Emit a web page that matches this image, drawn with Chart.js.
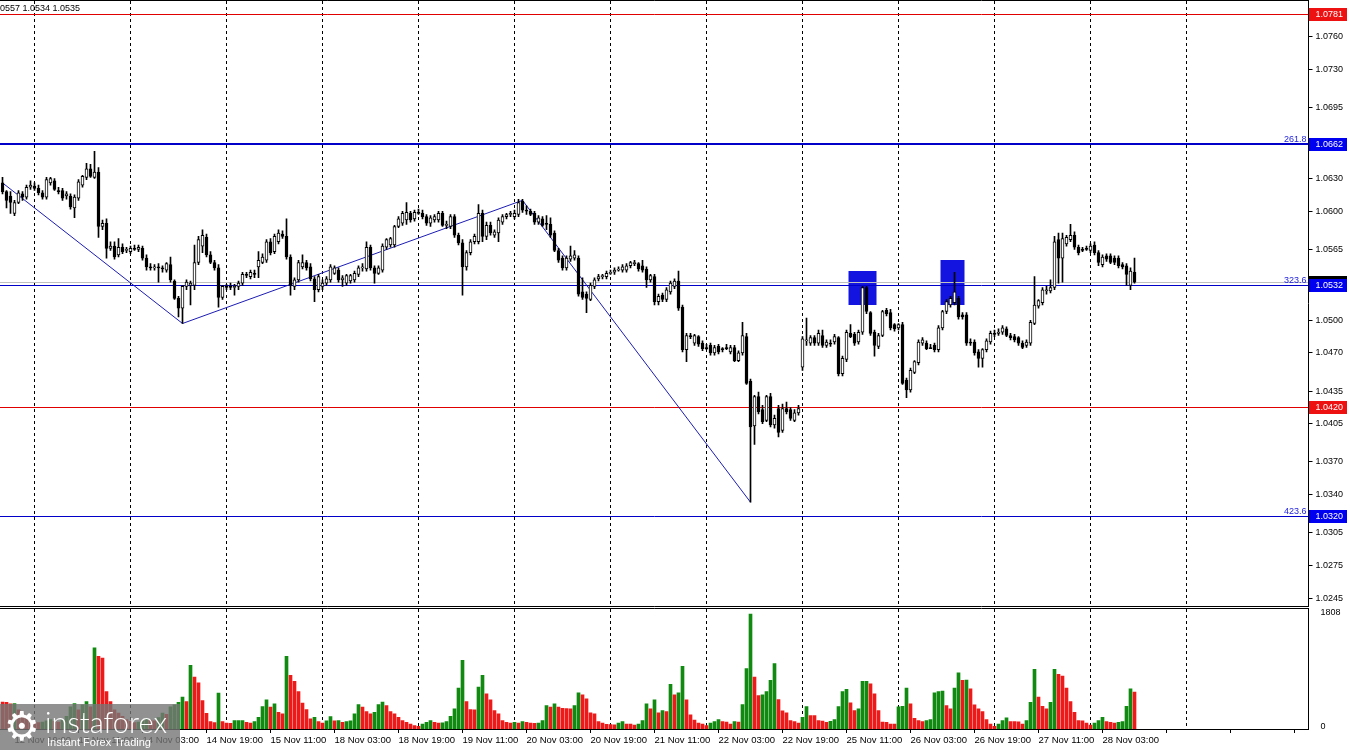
<!DOCTYPE html>
<html>
<head>
<meta charset="utf-8">
<title>EURUSD H1</title>
<script src="https://cdn.jsdelivr.net/npm/chart.js"></script>
<style>
  body {
    margin: 0;
    background: #fff;
    font-family: "Liberation Sans", Arial, sans-serif;
  }
  .page {
    position: relative;
    width: 1350px;
    height: 750px;
    overflow: hidden;
  }
  #priceChart { position: absolute; left: 0; top: 0; }
  #volumeChart { position: absolute; left: 0; top: 608px; }
  .quote {
    position: absolute;
    left: 0;
    top: 3px;
    font-size: 9px;
    line-height: 10px;
    color: #000;
    white-space: nowrap;
  }
  .logo {
    position: absolute;
    left: 0;
    top: 704px;
    width: 180px;
    height: 46px;
    background: rgba(118, 118, 118, 0.8);
    color: #fff;
    z-index: 5;
  }
  .logo .gear {
    position: absolute;
    left: 4px;
    top: 0px;
    font-family: "DejaVu Sans", sans-serif;
    font-size: 40px;
    line-height: 44px;
  }
  .logo .brand {
    position: absolute;
    left: 45px;
    top: 3px;
    font-family: "Lato", "Open Sans", sans-serif;
    font-size: 29px;
    line-height: 30px;
    font-weight: 300;
  }
  .logo .slogan {
    position: absolute;
    left: 47px;
    top: 32px;
    font-size: 11px;
    line-height: 12px;
  }
</style>
</head>
<body>
<div class="page">
  <canvas id="priceChart" width="1350" height="607"></canvas>
  <canvas id="volumeChart" width="1350" height="142"></canvas>
  <div class="quote">0557 1.0534 1.0535</div>
  <div class="logo">
    <span class="gear">⚙</span>
    <span class="brand">instaforex</span>
    <span class="slogan">Instant Forex Trading</span>
  </div>
</div>

<script>
// H1 bars, 12 Nov 16:00 .. 28 Nov 11:00
const opens = [
  1.0626,1.0618,1.0614,1.0598,1.0608,1.0616,1.0613,1.0622,1.0623,1.0621,
  1.0617,1.0613,1.0626,1.0628,1.0619,1.0619,1.0614,1.0614,1.0603,1.0612,
  1.0624,1.0631,1.0639,1.0631,1.0636,1.0586,1.0589,1.0566,1.0568,1.0560,
  1.0567,1.0564,1.0563,1.0566,1.0565,1.0566,1.0557,1.0549,1.0548,1.0549,
  1.0548,1.0546,1.0551,1.0536,1.0520,1.0511,1.0531,1.0532,1.0532,1.0553,
  1.0568,1.0576,1.0560,1.0553,1.0548,1.0521,1.0531,1.0531,1.0530,1.0531,
  1.0534,1.0542,1.0540,1.0543,1.0549,1.0553,1.0555,1.0572,1.0563,1.0572,
  1.0579,1.0577,1.0558,1.0531,1.0537,1.0549,1.0553,1.0549,1.0538,1.0528,
  1.0531,1.0534,1.0537,1.0543,1.0546,1.0537,1.0534,1.0536,1.0537,1.0542,
  1.0548,1.0547,1.0567,1.0548,1.0543,1.0546,1.0567,1.0569,1.0569,1.0586,
  1.0589,1.0592,1.0598,1.0593,1.0599,1.0598,1.0595,1.0589,1.0592,1.0592,
  1.0598,1.0587,1.0586,1.0595,1.0578,1.0571,1.0549,1.0562,1.0572,1.0572,
  1.0598,1.0577,1.0587,1.0578,1.0580,1.0590,1.0595,1.0597,1.0595,1.0597,
  1.0609,1.0601,1.0600,1.0598,1.0590,1.0593,1.0589,1.0588,1.0580,1.0564,
  1.0557,1.0548,1.0556,1.0557,1.0557,1.0526,1.0524,1.0519,1.0531,1.0538,
  1.0540,1.0540,1.0543,1.0544,1.0546,1.0546,1.0546,1.0550,1.0552,1.0552,
  1.0550,1.0547,1.0537,1.0540,1.0517,1.0523,1.0519,1.0526,1.0531,1.0536,
  1.0512,1.0473,1.0486,1.0479,1.0485,1.0479,1.0475,1.0477,1.0470,1.0476,
  1.0474,1.0475,1.0471,1.0475,1.0463,1.0470,1.0485,1.0444,1.0403,1.0430,
  1.0418,1.0408,1.0430,1.0404,1.0419,1.0399,1.0419,1.0418,1.0408,1.0415,
  1.0457,1.0481,1.0479,1.0484,1.0479,1.0486,1.0477,1.0479,1.0480,1.0484,
  1.0451,1.0464,1.0488,1.0487,1.0480,1.0489,1.0530,1.0507,1.0489,1.0476,
  1.0486,1.0509,1.0507,1.0496,1.0493,1.0496,1.0445,1.0436,1.0452,1.0461,
  1.0479,1.0479,1.0475,1.0477,1.0473,1.0493,1.0508,1.0514,1.0516,1.0520,
  1.0505,1.0505,1.0480,1.0480,1.0471,1.0465,1.0473,1.0480,1.0488,1.0488,
  1.0489,1.0492,1.0486,1.0485,1.0484,1.0479,1.0477,1.0479,1.0497,1.0513,
  1.0516,1.0527,1.0527,1.0530,1.0574,1.0557,1.0570,1.0574,1.0578,1.0567,
  1.0565,1.0566,1.0564,1.0569,1.0562,1.0551,1.0559,1.0559,1.0557,1.0557,
  1.0551,1.0550,1.0532,1.0544
];
const highs = [
  1.0631,1.0619,1.0618,1.0610,1.0619,1.0618,1.0624,1.0628,1.0626,1.0624,
  1.0619,1.0631,1.0631,1.0630,1.0622,1.0621,1.0618,1.0616,1.0615,1.0629,
  1.0633,1.0644,1.0643,1.0655,1.0640,1.0592,1.0593,1.0572,1.0572,1.0575,
  1.0570,1.0567,1.0568,1.0569,1.0569,1.0568,1.0560,1.0552,1.0551,1.0552,
  1.0550,1.0553,1.0558,1.0537,1.0522,1.0532,1.0537,1.0536,1.0569,1.0577,
  1.0583,1.0579,1.0563,1.0555,1.0551,1.0532,1.0533,1.0534,1.0533,1.0536,
  1.0544,1.0544,1.0546,1.0546,1.0563,1.0561,1.0574,1.0575,1.0579,1.0583,
  1.0582,1.0593,1.0560,1.0539,1.0555,1.0560,1.0555,1.0552,1.0540,1.0542,
  1.0537,1.0540,1.0551,1.0550,1.0548,1.0541,1.0542,1.0542,1.0545,1.0550,
  1.0552,1.0572,1.0569,1.0550,1.0550,1.0570,1.0575,1.0576,1.0587,1.0595,
  1.0600,1.0608,1.0600,1.0601,1.0602,1.0601,1.0597,1.0596,1.0597,1.0600,
  1.0600,1.0591,1.0597,1.0597,1.0580,1.0574,1.0564,1.0574,1.0579,1.0606,
  1.0601,1.0590,1.0590,1.0583,1.0594,1.0597,1.0598,1.0600,1.0601,1.0611,
  1.0611,1.0605,1.0602,1.0600,1.0596,1.0595,1.0596,1.0594,1.0582,1.0566,
  1.0559,1.0559,1.0568,1.0564,1.0559,1.0539,1.0526,1.0534,1.0539,1.0542,
  1.0542,1.0545,1.0546,1.0548,1.0549,1.0551,1.0552,1.0554,1.0555,1.0553,
  1.0555,1.0549,1.0542,1.0542,1.0524,1.0525,1.0530,1.0536,1.0538,1.0545,
  1.0514,1.0488,1.0488,1.0487,1.0486,1.0481,1.0478,1.0479,1.0477,1.0478,
  1.0475,1.0478,1.0477,1.0477,1.0472,1.0498,1.0488,1.0446,1.0431,1.0434,
  1.0422,1.0431,1.0433,1.0413,1.0422,1.0423,1.0425,1.0420,1.0418,1.0422,
  1.0485,1.0502,1.0486,1.0486,1.0491,1.0491,1.0482,1.0482,1.0487,1.0485,
  1.0467,1.0491,1.0496,1.0489,1.0491,1.0531,1.0531,1.0508,1.0491,1.0488,
  1.0509,1.0511,1.0510,1.0497,1.0497,1.0498,1.0447,1.0456,1.0463,1.0482,
  1.0484,1.0481,1.0478,1.0479,1.0495,1.0509,1.0519,1.0522,1.0544,1.0522,
  1.0507,1.0507,1.0483,1.0482,1.0473,1.0474,1.0483,1.0490,1.0491,1.0492,
  1.0495,1.0494,1.0488,1.0487,1.0485,1.0481,1.0482,1.0500,1.0540,1.0519,
  1.0530,1.0531,1.0537,1.0577,1.0580,1.0580,1.0578,1.0588,1.0581,1.0569,
  1.0567,1.0568,1.0570,1.0572,1.0564,1.0560,1.0561,1.0561,1.0559,1.0559,
  1.0553,1.0552,1.0548,1.0557
];
const lows = [
  1.0616,1.0603,1.0598,1.0596,1.0607,1.0610,1.0611,1.0620,1.0619,1.0615,
  1.0611,1.0611,1.0624,1.0619,1.0616,1.0610,1.0611,1.0602,1.0594,1.0610,
  1.0622,1.0629,1.0631,1.0630,1.0576,1.0583,1.0557,1.0564,1.0556,1.0558,
  1.0561,1.0562,1.0561,1.0564,1.0563,1.0555,1.0546,1.0546,1.0546,1.0535,
  1.0544,1.0544,1.0535,1.0519,1.0503,1.0497,1.0528,1.0514,1.0528,1.0551,
  1.0562,1.0558,1.0552,1.0546,1.0512,1.0519,1.0528,1.0528,1.0523,1.0528,
  1.0532,1.0539,1.0538,1.0539,1.0539,1.0552,1.0553,1.0560,1.0561,1.0570,
  1.0575,1.0556,1.0523,1.0528,1.0535,1.0547,1.0546,1.0536,1.0517,1.0526,
  1.0528,1.0532,1.0535,1.0542,1.0535,1.0531,1.0532,1.0534,1.0535,1.0540,
  1.0545,1.0545,1.0546,1.0534,1.0542,1.0544,1.0565,1.0567,1.0567,1.0585,
  1.0587,1.0588,1.0590,1.0591,1.0597,1.0593,1.0587,1.0586,1.0590,1.0590,
  1.0586,1.0584,1.0584,1.0576,1.0569,1.0523,1.0546,1.0560,1.0570,1.0570,
  1.0572,1.0574,1.0578,1.0576,1.0572,1.0588,1.0593,1.0595,1.0593,1.0595,
  1.0599,1.0597,1.0596,1.0588,1.0588,1.0586,1.0583,1.0576,1.0563,1.0553,
  1.0546,1.0546,1.0554,1.0555,1.0522,1.0519,1.0507,1.0518,1.0529,1.0536,
  1.0538,1.0538,1.0542,1.0542,1.0545,1.0544,1.0544,1.0548,1.0550,1.0545,
  1.0544,1.0530,1.0535,1.0514,1.0514,1.0517,1.0517,1.0524,1.0529,1.0509,
  1.0471,1.0462,1.0483,1.0477,1.0476,1.0472,1.0473,1.0468,1.0468,1.0469,
  1.0471,1.0473,1.0469,1.0462,1.0462,1.0468,1.0441,1.0333,1.0386,1.0414,
  1.0405,1.0407,1.0402,1.0401,1.0393,1.0397,1.0414,1.0408,1.0407,1.0413,
  1.0454,1.0477,1.0477,1.0477,1.0477,1.0475,1.0475,1.0476,1.0478,1.0449,
  1.0449,1.0462,1.0484,1.0477,1.0478,1.0487,1.0506,1.0486,1.0467,1.0474,
  1.0485,1.0504,1.0491,1.0490,1.0491,1.0441,1.0429,1.0434,1.0451,1.0459,
  1.0477,1.0473,1.0474,1.0471,1.0471,1.0491,1.0506,1.0512,1.0514,1.0501,
  1.0501,1.0477,1.0477,1.0468,1.0457,1.0457,1.0471,1.0478,1.0485,1.0486,
  1.0487,1.0485,1.0482,1.0480,1.0477,1.0474,1.0475,1.0477,1.0496,1.0511,
  1.0514,1.0524,1.0525,1.0528,1.0534,1.0535,1.0568,1.0572,1.0565,1.0560,
  1.0563,1.0564,1.0562,1.0560,1.0550,1.0549,1.0554,1.0552,1.0551,1.0548,
  1.0547,1.0532,1.0528,1.0534
];
const closes = [
  1.0618,1.0610,1.0608,1.0608,1.0617,1.0613,1.0622,1.0624,1.0621,1.0617,
  1.0613,1.0629,1.0630,1.0620,1.0618,1.0612,1.0616,1.0604,1.0613,1.0627,
  1.0632,1.0639,1.0632,1.0636,1.0586,1.0589,1.0566,1.0568,1.0558,1.0567,
  1.0563,1.0565,1.0566,1.0565,1.0567,1.0557,1.0549,1.0548,1.0549,1.0548,
  1.0547,1.0552,1.0537,1.0520,1.0511,1.0531,1.0535,1.0534,1.0553,1.0574,
  1.0578,1.0560,1.0553,1.0548,1.0521,1.0531,1.0530,1.0530,1.0531,1.0534,
  1.0542,1.0541,1.0544,1.0542,1.0555,1.0558,1.0572,1.0562,1.0577,1.0580,
  1.0577,1.0558,1.0532,1.0537,1.0553,1.0553,1.0548,1.0538,1.0528,1.0540,
  1.0534,1.0538,1.0549,1.0548,1.0537,1.0539,1.0541,1.0541,1.0543,1.0548,
  1.0549,1.0567,1.0548,1.0543,1.0548,1.0568,1.0574,1.0575,1.0586,1.0593,
  1.0598,1.0599,1.0592,1.0599,1.0598,1.0595,1.0589,1.0594,1.0595,1.0598,
  1.0587,1.0588,1.0595,1.0578,1.0571,1.0549,1.0562,1.0572,1.0577,1.0598,
  1.0577,1.0587,1.0580,1.0581,1.0592,1.0595,1.0597,1.0598,1.0598,1.0608,
  1.0601,1.0600,1.0597,1.0590,1.0594,1.0587,1.0588,1.0578,1.0564,1.0555,
  1.0548,1.0557,1.0559,1.0560,1.0524,1.0521,1.0520,1.0532,1.0537,1.0540,
  1.0541,1.0543,1.0544,1.0546,1.0547,1.0549,1.0550,1.0553,1.0553,1.0547,
  1.0546,1.0537,1.0541,1.0517,1.0522,1.0519,1.0528,1.0534,1.0536,1.0511,
  1.0473,1.0486,1.0485,1.0486,1.0478,1.0474,1.0474,1.0470,1.0475,1.0471,
  1.0473,1.0474,1.0475,1.0463,1.0470,1.0486,1.0442,1.0402,1.0430,1.0416,
  1.0407,1.0430,1.0404,1.0410,1.0397,1.0419,1.0416,1.0410,1.0415,1.0419,
  1.0483,1.0482,1.0484,1.0479,1.0488,1.0477,1.0480,1.0478,1.0485,1.0451,
  1.0465,1.0489,1.0485,1.0479,1.0489,1.0530,1.0508,1.0488,1.0477,1.0486,
  1.0508,1.0506,1.0493,1.0492,1.0496,1.0442,1.0436,1.0454,1.0462,1.0480,
  1.0482,1.0474,1.0474,1.0473,1.0493,1.0508,1.0517,1.0520,1.0526,1.0503,
  1.0503,1.0479,1.0479,1.0470,1.0465,1.0473,1.0481,1.0488,1.0487,1.0489,
  1.0493,1.0486,1.0484,1.0482,1.0479,1.0475,1.0480,1.0498,1.0514,1.0518,
  1.0528,1.0528,1.0530,1.0572,1.0557,1.0575,1.0576,1.0578,1.0567,1.0562,
  1.0564,1.0565,1.0568,1.0562,1.0553,1.0558,1.0556,1.0553,1.0553,1.0550,
  1.0549,1.0542,1.0545,1.0535
];
const volumes = [
  422,420,395,400,300,250,200,150,120,100,
  110,130,150,120,110,150,200,350,400,300,
  380,430,350,1275,1144,1117,590,432,300,250,
  200,150,120,100,110,130,160,140,130,180,
  250,230,350,380,420,500,432,1001,817,727,
  448,248,116,100,564,116,95,90,132,133,
  134,105,95,116,184,353,458,343,395,264,
  240,1144,843,748,590,406,306,158,184,116,
  95,130,195,130,132,105,115,130,237,385,
  343,274,237,264,385,422,369,274,237,184,
  132,105,79,53,42,79,105,132,105,95,
  96,116,200,316,643,1080,432,306,300,659,
  843,553,458,290,237,132,105,95,105,95,
  116,105,95,90,95,132,369,343,395,343,
  327,320,316,369,569,538,474,253,237,116,
  95,74,69,66,95,116,79,78,63,79,
  132,395,316,458,253,290,274,701,538,569,
  985,458,221,142,95,79,53,95,116,148,
  116,110,79,116,110,385,949,1808,817,527,
  538,590,764,1028,464,285,253,132,116,95,
  184,353,211,210,132,126,105,121,148,353,
  590,622,411,290,316,748,750,711,553,290,
  110,105,79,78,350,358,643,395,169,132,
  116,132,148,569,590,595,369,316,643,885,
  764,770,632,379,316,274,148,79,42,79,
  132,174,116,115,114,79,132,421,938,500,
  358,316,421,938,859,833,643,432,264,132,
  130,95,63,95,132,184,116,105,95,105,
  116,358,632,580
];

const timeLabels = [
  '12 Nov 19:00', '13 Nov 11:00', '14 Nov 03:00', '14 Nov 19:00', '15 Nov 11:00',
  '18 Nov 03:00', '18 Nov 19:00', '19 Nov 11:00', '20 Nov 03:00', '20 Nov 19:00',
  '21 Nov 11:00', '22 Nov 03:00', '22 Nov 19:00', '25 Nov 11:00', '26 Nov 03:00',
  '26 Nov 19:00', '27 Nov 11:00', '28 Nov 03:00'
];
const priceTicks = [1.0760, 1.0730, 1.0695, 1.0630, 1.0600, 1.0565, 1.0500, 1.0470,
  1.0435, 1.0405, 1.0370, 1.0340, 1.0305, 1.0275, 1.0245];
const volumeTicks = [0, 1808];

// horizontal levels
const supportLevels = [1.0781, 1.0420];
const fiboLevels = [1.0662, 1.0532, 1.0320];
const fiboNames = ['261.8', '323.6', '423.6'];
const bidPrice = 1.0535;

// zigzag (bar index, price) and the two marked zones
const swingBars = [0, 45, 130, 187];
const swingPrices = [1.0626, 1.0497, 1.0610, 1.0333];
const zoneFrom = [212, 235];
const zoneTo = [218, 240];
const zoneTop = [1.0545, 1.0555];
const zoneBottom = [1.0514, 1.0514];

const slotCount = 327;
const priceMin = 1.02378, priceMax = 1.07929;
const volumeMax = 1887;

const slots = Array.from({ length: slotCount }, (_, i) => String(i));
const clear = 'rgba(0,0,0,0)';
const dayLine = i => (i >= 8 && i <= 296 && (i - 8) % 24 === 0) ? '#000' : clear;
const timeTick = i => i >= 3 && (i - 3) % 16 === 0;

// no extra room for overflowing tick labels
const noPadding = s => {
  s.paddingTop = 0;
  s.paddingBottom = 0;
  s.paddingLeft = 0;
  s.paddingRight = 0;
};

Chart.defaults.font.family = '"Liberation Sans", Arial, sans-serif';
Chart.defaults.font.size = 9;
Chart.defaults.color = '#000';

const framePlugin = {
  id: 'frame',
  afterDraw(chart) {
    const { ctx, chartArea: a } = chart;
    const r = Math.floor(a.right) + 0.5;
    ctx.save();
    ctx.strokeStyle = '#000';
    ctx.lineWidth = 1;
    ctx.beginPath();
    ctx.moveTo(0, a.top - 0.5); ctx.lineTo(r, a.top - 0.5);
    ctx.moveTo(0, a.bottom + 0.5); ctx.lineTo(r, a.bottom + 0.5);
    ctx.moveTo(r, 0); ctx.lineTo(r, Math.min(chart.height, a.bottom + 1));
    ctx.stroke();
    ctx.restore();
  }
};

const levelsPlugin = {
  id: 'levels',
  beforeDatasetsDraw(chart) {
    const { ctx, chartArea: a, scales: { x, y } } = chart;
    ctx.save();
    ctx.beginPath();
    ctx.rect(0, a.top, a.right, a.bottom - a.top);
    ctx.clip();

    ctx.fillStyle = '#1414e0';
    zoneFrom.forEach((f, k) => {
      const x1 = x.getPixelForValue(f - 0.5), x2 = x.getPixelForValue(zoneTo[k] + 0.5);
      const y1 = y.getPixelForValue(zoneTop[k]), y2 = y.getPixelForValue(zoneBottom[k]);
      ctx.fillRect(x1, Math.round(y1), x2 - x1, Math.round(y2 - y1));
    });

    const hline = (price, color, width) => {
      const py = Math.round(y.getPixelForValue(price)) + (width % 2 ? 0.5 : 0);
      ctx.strokeStyle = color;
      ctx.lineWidth = width;
      ctx.beginPath();
      ctx.moveTo(0, py);
      ctx.lineTo(a.right, py);
      ctx.stroke();
    };
    hline(bidPrice, '#c0c0c0', 1);
    supportLevels.forEach(p => hline(p, '#e00000', 1));
    fiboLevels.forEach((p, k) => hline(p, '#0000c8', k === 0 ? 2 : 1));

    ctx.strokeStyle = '#1c1cb4';
    ctx.lineWidth = 1;
    ctx.beginPath();
    swingBars.forEach((b, k) => {
      const px = x.getPixelForValue(b), py = y.getPixelForValue(swingPrices[k]);
      if (k === 0) ctx.moveTo(px, py); else ctx.lineTo(px, py);
    });
    ctx.stroke();
    ctx.restore();
  },
  afterDatasetsDraw(chart) {
    const { ctx, chartArea: a, scales: { y } } = chart;
    ctx.save();
    ctx.font = '9px "Liberation Sans", Arial, sans-serif';
    ctx.fillStyle = '#1c1ce0';
    ctx.textAlign = 'right';
    ctx.textBaseline = 'alphabetic';
    fiboLevels.forEach((p, k) => {
      ctx.fillText(fiboNames[k], a.right - 2, Math.round(y.getPixelForValue(p)) - 2);
    });
    ctx.restore();
  },
  afterDraw(chart) {
    const { ctx, chartArea: a, scales: { y } } = chart;
    ctx.save();
    ctx.font = '9px "Liberation Sans", Arial, sans-serif';
    ctx.textAlign = 'left';
    ctx.textBaseline = 'middle';
    const tag = (price, bg) => {
      const py = Math.round(y.getPixelForValue(price));
      ctx.fillStyle = bg;
      ctx.fillRect(Math.floor(a.right) + 1, py - 6, 38, 13);
      ctx.fillStyle = '#fff';
      ctx.fillText(price.toFixed(4), a.right + 7, py + 0.5);
    };
    tag(bidPrice, '#000');
    supportLevels.forEach(p => tag(p, '#ee1111'));
    fiboLevels.forEach(p => tag(p, '#0000f0'));
    ctx.restore();
  }
};

new Chart(document.getElementById('priceChart'), {
  type: 'bar',
  data: {
    labels: slots,
    datasets: [
      {
        label: 'shadow',
        data: lows.map((l, i) => [l, highs[i]]),
        backgroundColor: '#000',
        barThickness: 1,
        grouped: false,
        order: 2
      },
      {
        label: 'body',
        data: opens.map((o, i) => [o, closes[i]]),
        backgroundColor: opens.map((o, i) => closes[i] >= o ? '#fff' : '#000'),
        borderColor: '#000',
        borderWidth: 1,
        borderSkipped: false,
        barThickness: 3,
        minBarLength: 1,
        grouped: false,
        order: 1
      }
    ]
  },
  options: {
    responsive: false,
    animation: false,
    devicePixelRatio: 1,
    events: [],
    layout: { padding: { left: 0.5, top: 1, right: 0, bottom: 1 } },
    plugins: { legend: { display: false }, tooltip: { enabled: false } },
    scales: {
      x: {
        offset: true,
        afterFit: s => { s.height = 0; noPadding(s); },
        grid: { offset: false, drawTicks: false, color: ctx => dayLine(ctx.index) },
        border: { display: false, dash: [3, 3] },
        ticks: { display: false, autoSkip: false }
      },
      y: {
        position: 'right',
        min: priceMin,
        max: priceMax,
        afterFit: s => { s.width = 41.5; noPadding(s); },
        afterBuildTicks: s => { s.ticks = priceTicks.map(v => ({ value: v })); },
        grid: { drawOnChartArea: false, tickLength: 4, tickColor: '#000' },
        border: { display: false },
        ticks: { padding: 3, autoSkip: false, callback: v => v.toFixed(4) }
      }
    }
  },
  plugins: [framePlugin, levelsPlugin]
});

new Chart(document.getElementById('volumeChart'), {
  type: 'bar',
  data: {
    labels: slots,
    datasets: [{
      label: 'volume',
      data: volumes,
      backgroundColor: volumes.map((v, i) => i > 0 && v > volumes[i - 1] ? '#108a10' : '#ee1a1a'),
      borderWidth: 0,
      barThickness: 3
    }]
  },
  options: {
    responsive: false,
    animation: false,
    devicePixelRatio: 1,
    events: [],
    layout: { padding: { left: 0.5, top: 1, right: 0, bottom: 0 } },
    plugins: { legend: { display: false }, tooltip: { enabled: false } },
    scales: {
      x: {
        offset: true,
        afterFit: s => { s.height = 21; noPadding(s); },
        grid: {
          offset: false,
          color: ctx => dayLine(ctx.index),
          tickLength: 4,
          tickColor: ctx => timeTick(ctx.index) ? '#000' : clear
        },
        border: { display: false, dash: [3, 3] },
        ticks: {
          autoSkip: false,
          maxRotation: 0,
          minRotation: 0,
          align: 'start',
          padding: 2,
          font: { size: 9.5 },
          callback: (v, i) => timeTick(i) ? (timeLabels[(i - 3) / 16] || '') : ''
        }
      },
      y: {
        position: 'right',
        min: 0,
        max: volumeMax,
        afterFit: s => { s.width = 41.5; noPadding(s); },
        afterBuildTicks: s => { s.ticks = volumeTicks.map(v => ({ value: v })); },
        grid: { display: false },
        border: { display: false },
        ticks: { padding: 4, labelOffset: -2, callback: v => String(v) }
      }
    }
  },
  plugins: [framePlugin]
});
</script>
</body>
</html>
